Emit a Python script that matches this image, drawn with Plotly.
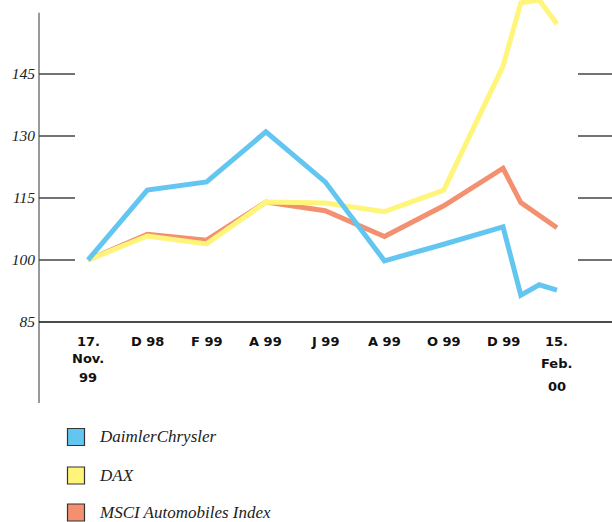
import plotly.graph_objects as go

# ---- data ----
x_pos = [0, 1, 2, 3, 4, 5, 6, 7, 7.30, 7.61, 7.91]
daimler = [100, 116.9, 118.9, 131.0, 118.9, 99.8, 103.8, 108.0, 91.5, 94.0, 92.7]
dax = [100, 105.8, 103.9, 114.0, 113.8, 111.7, 116.9, 146.9, 162.2, 162.9, 157.1]
msci = [100, 106.2, 104.8, 114.0, 111.9, 105.7, 113.1, 122.2, 113.9, None, 107.8]

tick_x = [0, 1, 2, 3, 4, 5, 6, 7, 7.91]
tick_labels = [["17.", "Nov.", "99"], ["D 98"], ["F 99"], ["A 99"], ["J 99"],
               ["A 99"], ["O 99"], ["D 99"], ["15.", "Feb.", "00"]]
y_ticks = [85, 100, 115, 130, 145]
series_names = ["DaimlerChrysler", "DAX", "MSCI Automobiles Index"]
colors = ["#62C6F1", "#FFF57A", "#F2906F"]

W, H = 612, 522
L, B = 39, 119
PW, PH = W - L, H - B  # plot area 573 x 403


def py(p):  # pixel y -> paper
    return (PH - p) / PH


def pxx(p):  # pixel x -> paper
    return (p - L) / PW


fig = go.Figure()
for name, vals, col in [(series_names[2], msci, colors[2]),
                        (series_names[1], dax, colors[1]),
                        (series_names[0], daimler, colors[0])]:
    fig.add_trace(go.Scatter(x=x_pos, y=vals, mode="lines", name=name,
                             connectgaps=True,
                             line=dict(color=col, width=5),
                             showlegend=False, hoverinfo="skip"))

shapes = []
# y-axis line
shapes.append(dict(type="line", xref="paper", yref="y", x0=0, x1=0,
                   y0=65.4, y1=159.8, line=dict(color="#777777", width=1.5)))
# x-axis line at 85
shapes.append(dict(type="line", xref="paper", yref="y", x0=0, x1=1,
                   y0=85, y1=85, line=dict(color="#111111", width=1.5)))
# tick segments
for v in y_ticks[1:]:
    shapes.append(dict(type="line", xref="paper", yref="y", x0=0, x1=pxx(75),
                       y0=v, y1=v, line=dict(color="#444444", width=1.3)))
    shapes.append(dict(type="line", xref="paper", yref="y", x0=pxx(578), x1=1,
                       y0=v, y1=v, line=dict(color="#444444", width=1.3)))

annotations = []
# x labels
for xv, lines in zip(tick_x, tick_labels):
    if len(lines) == 1:
        ys = [341]
    elif lines[0] == "17.":
        ys = [341, 358.5, 377]
    else:
        ys = [341, 363, 386]
    for t, yy in zip(lines, ys):
        annotations.append(dict(x=xv, y=py(yy), xref="x", yref="paper",
                                text=t, showarrow=False, xanchor="center",
                                yanchor="middle",
                                font=dict(family="DejaVu Sans", size=13,
                                          color="#111111", weight="bold")))

# legend
leg_y = [437, 475.5, 512.5]
for name, col, yy in zip(series_names, colors, leg_y):
    shapes.append(dict(type="rect", xref="paper", yref="paper",
                       x0=pxx(67.5), x1=pxx(84.5), y0=py(yy - 8.5), y1=py(yy + 8.5),
                       fillcolor=col, line=dict(color="#333333", width=1.2)))
    annotations.append(dict(x=pxx(97.5), y=py(yy), xref="paper", yref="paper",
                            text=name, showarrow=False, xanchor="left",
                            yanchor="middle", borderpad=0,
                            font=dict(family="Liberation Serif", size=17,
                                      color="#222222", style="italic")))

fig.update_layout(
    width=W, height=H,
    margin=dict(l=L, r=0, t=0, b=B, pad=0),
    paper_bgcolor="white", plot_bgcolor="white",
    shapes=shapes, annotations=annotations,
    xaxis=dict(range=[-49 / 59.29, 524 / 59.29], showgrid=False, zeroline=False,
               showline=False, showticklabels=False, ticks=""),
    yaxis=dict(range=[65.4, 162.9], showgrid=False, zeroline=False,
               showline=False, tickvals=y_ticks, ticktext=[str(v) for v in y_ticks],
               ticks="", ticklabelstandoff=3,
               tickfont=dict(family="Liberation Serif", size=15.5, color="#222222",
                             style="italic")),
    showlegend=False,
)

fig.write_html("out.html")
